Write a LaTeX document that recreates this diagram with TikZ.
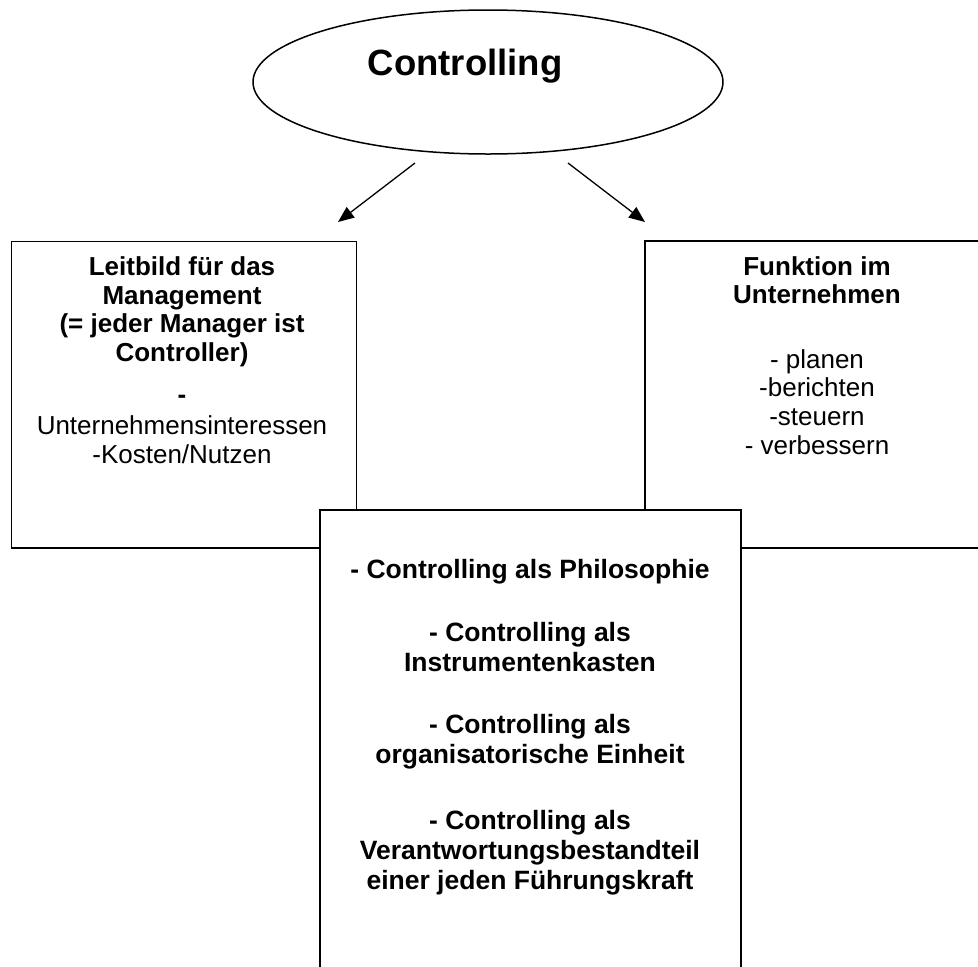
\documentclass[tikz,border=0pt]{standalone}
\usepackage{fontspec}
\setmainfont{Liberation Sans}
\usetikzlibrary{shapes.geometric,arrows.meta}
\begin{document}
\begin{tikzpicture}[x=1pt,y=-1pt,
  frame/.style={draw=black,line width=1.5pt,fill=white,inner sep=0pt,outer sep=0pt,anchor=north west},
  bodytext/.style={align=center,inner sep=0pt,anchor=base,font=\fontsize{26}{28.6}\selectfont},
  centretext/.style={align=center,inner sep=0pt,anchor=base,font=\bfseries\fontsize{26.5}{30}\selectfont},
  pointer/.style={draw=black,line width=1.3pt,-{Triangle[length=16pt,width=13pt]}}]
\useasboundingbox (0,0) rectangle (978,967);
\clip (0,0) rectangle (978,967);

% title ellipse
\node[ellipse,draw=black,line width=1.5pt,minimum width=470pt,minimum height=144pt,inner sep=0pt] (ctrl) at (488,82) {};
\node[font=\bfseries\fontsize{36.5}{40}\selectfont,anchor=base,inner sep=0pt] (ctrltitle) at (465,75) {Controlling};

% arrows from the title to the two upper boxes
\coordinate (lstart) at (415,163);
\coordinate (lend) at (338,222);
\coordinate (rstart) at (568,163);
\coordinate (rend) at (645,222);
\draw[pointer] (lstart) -- (lend);
\draw[pointer] (rstart) -- (rend);

% left box (multi-line text is anchored at the baseline of its last line)
\node[frame,minimum width=345pt,minimum height=306.5pt] (leit) at (11.7,241.5) {};
\node[bodytext] (leittext) at (182,463) {{\bfseries Leitbild für das}\\ {\bfseries Management}\\ {\bfseries (= jeder Manager ist}\\ {\bfseries Controller)}\\[13.4pt] {\bfseries -}\\[2.4pt] Unternehmensinteressen\\ -Kosten/Nutzen};

% right box
\node[frame,minimum width=345pt,minimum height=307pt] (funk) at (645,241) {};
\node[bodytext] (funktext) at (817,454) {{\bfseries Funktion im}\\ {\bfseries Unternehmen}\\[35.8pt] - planen\\ -berichten\\ -steuern\\ - verbessern};

% centre box, drawn last so it covers the corners of the other two
\node[frame,minimum width=421pt,minimum height=480pt] (rollen) at (320,510) {};
\node[centretext] (rollentext) at (530,889) {- Controlling als Philosophie\\[33pt] - Controlling als\\ Instrumentenkasten\\[32pt] - Controlling als\\ organisatorische Einheit\\[36pt] - Controlling als\\ Verantwortungsbestandteil\\ einer jeden Führungskraft};
\end{tikzpicture}
\end{document}
